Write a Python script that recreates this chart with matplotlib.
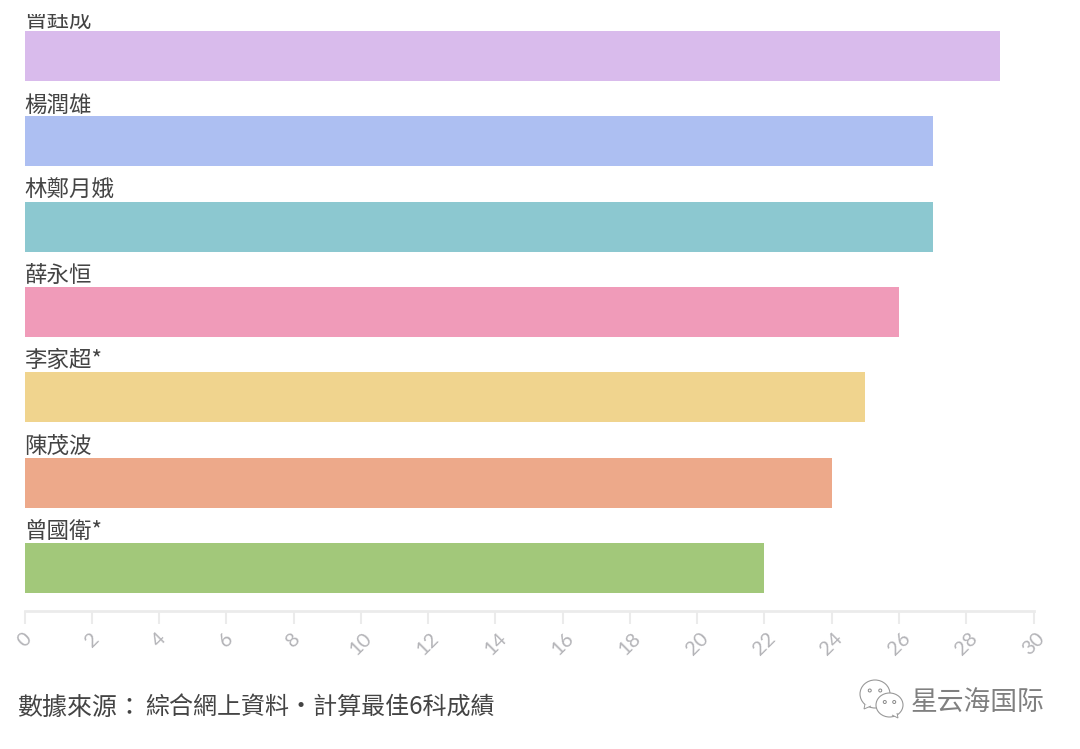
import matplotlib
matplotlib.use("Agg")
import matplotlib.pyplot as plt
from matplotlib.patches import Ellipse, Polygon

plt.rcParams["font.family"] = ["Noto Sans CJK TC", "DejaVu Sans"]

names = ["曾鈺成", "楊潤雄", "林鄭月娥", "薛永恒", "李家超*", "陳茂波", "曾國衛*"]
scores = [29, 27, 27, 26, 25, 24, 22]
colors = ["#D9BBEC", "#ADBFF2", "#8CC8D0", "#F09BB9", "#F0D48E", "#EDA98A", "#A2C87A"]
ticks = list(range(0, 31, 2))

W, H = 1080, 749
fig = plt.figure(figsize=(W / 100, H / 100), dpi=100)
ax = fig.add_axes([24.5 / W, 1 - 610.5 / H, 1009 / W, 597 / H])

bar_h = 0.585
ax.barh(range(len(names)), scores, height=bar_h, color=colors)
ax.set_xlim(0, 30)
ax.set_ylim(6.5, -0.5)
ax.set_yticks([])

for i, name in enumerate(names):
    # the first label gets cut off by the top of the plot area
    ax.annotate(name, (0, i - bar_h / 2), xytext=(0, 0), textcoords="offset points",
                fontsize=16.2, color="#444444", va="bottom", ha="left",
                annotation_clip=False, clip_on=True)

for s in ["top", "right", "left"]:
    ax.spines[s].set_visible(False)
ax.spines["bottom"].set_color("#EBEBEB")
ax.spines["bottom"].set_linewidth(2)

ax.set_xticks(ticks)
ax.tick_params(axis="x", length=9, width=1.5, color="#EBEBEB", pad=5)
for lab in ax.get_xticklabels():
    lab.set_rotation(45)
    lab.set_ha("center")
    lab.set_va("top")
    lab.set_fontsize(14.5)
    lab.set_color("#B4B4B8")
    lab.set_family(["Lato", "DejaVu Sans"])

fig.text(17 / W, 1 - 708 / H, "數據來源：", fontsize=18, color="#444444", va="center")
fig.text(145 / W, 1 - 708 / H, "綜合網上資料•計算最佳6科成績", fontsize=17.3, color="#444444", va="center")
fig.text(911 / W, 1 - 702 / H, "星云海国际", fontsize=19.3, color="#808080", va="center")

# wechat style watermark, two speech bubbles
def bubble(cx, cy, rx, ry, tail):
    fig.add_artist(Ellipse((cx / W, 1 - cy / H), 2 * rx / W, 2 * ry / H, transform=fig.transFigure,
                           fc="white", ec="#999999", lw=0.8))
    fig.add_artist(Polygon([(x / W, 1 - y / H) for x, y in tail], transform=fig.transFigure,
                           fc="white", ec="#999999", lw=0.7, closed=False))
    for dx in (-rx * 0.35, rx * 0.35):
        fig.add_artist(Ellipse(((cx + dx) / W, 1 - (cy - ry * 0.25) / H), 3 / W, 3 / H,
                               transform=fig.transFigure, fc="white", ec="#888888", lw=0.7))

bubble(875, 694, 15, 14, [(865, 704), (864, 709), (871, 706)])
bubble(889.5, 705, 13.5, 12, [(892, 715), (898, 718), (897, 713)])

fig.savefig("out.png", dpi=100, facecolor="white")
